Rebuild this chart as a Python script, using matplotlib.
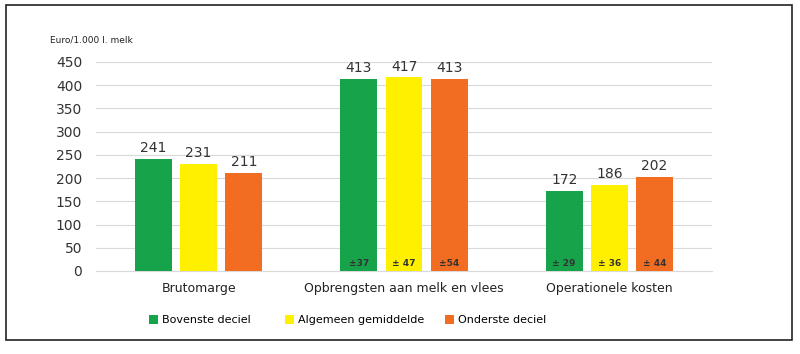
import numpy as np
import matplotlib.pyplot as plt
from matplotlib.patches import Rectangle

# data
categorieen = ['Brutomarge', 'Opbrengsten aan melk en vlees', 'Operationele kosten']
reeksen = ['Bovenste deciel', 'Algemeen gemiddelde', 'Onderste deciel']
bovenste = [241, 413, 172]
gemiddelde = [231, 417, 186]
onderste = [211, 413, 202]
spreiding_bovenste = ['', '±37', '± 29']
spreiding_gemiddelde = ['', '± 47', '± 36']
spreiding_onderste = ['', '±54', '± 44']

kleuren = ['#17a34a', '#fff000', '#f26c21']

fig = plt.figure(figsize=(8, 3.54), dpi=100)
ax = fig.add_axes([0.12, 0.2345, 0.77, 0.5904])

x = np.arange(len(categorieen))
breedte = 0.18
afstand = 0.22
waarden = [bovenste, gemiddelde, onderste]
spreidingen = [spreiding_bovenste, spreiding_gemiddelde, spreiding_onderste]

staven = []
for i, (vals, sprd, kleur, naam) in enumerate(zip(waarden, spreidingen, kleuren, reeksen)):
    pos = x + (i - 1) * afstand
    b = ax.bar(pos, vals, width=breedte, color=kleur, label=naam, zorder=3)
    staven.append(b)
    for p, v, s in zip(pos, vals, sprd):
        ax.text(p, v + 8, str(v), ha='center', va='bottom', fontsize=10, color='#333333')
        if s:
            ax.text(p, 16, s, ha='center', va='center', fontsize=6.5, fontweight='bold', color='#333333', zorder=4)

ax.set_xlim(-0.5, 2.5)
ax.set_ylim(0, 450)
ax.set_yticks(range(0, 451, 50))
ax.yaxis.grid(True, color='#d9d9d9', linewidth=0.8, zorder=0)
ax.set_xticks(x)
ax.set_xticklabels(categorieen, fontsize=9, color='#222222')
ax.tick_params(axis='y', length=0, labelsize=10, labelcolor='#333333', pad=10)
ax.tick_params(axis='x', length=0, pad=8)
for kant in ['top', 'right', 'left']:
    ax.spines[kant].set_visible(False)
ax.spines['bottom'].set_color('#d9d9d9')

fig.text(0.062, 0.88, 'Euro/1.000 l. melk', fontsize=6.5, color='#222222')

# legenda: elk item apart geplaatst
for b, naam, xpos in zip(staven, reeksen, [0.186, 0.356, 0.556]):
    fig.legend(handles=[b], labels=[naam], loc='center left', bbox_to_anchor=(xpos, 0.095),
               frameon=False, fontsize=8, handlelength=0.8, handleheight=0.8,
               handletextpad=0.4, borderpad=0, borderaxespad=0)

# kader rond de figuur
fig.patches.append(Rectangle((0.007, 0.04), 0.983, 0.945, transform=fig.transFigure,
                             fill=False, edgecolor='#222222', linewidth=1.2))

fig.savefig('out.png', dpi=100)
